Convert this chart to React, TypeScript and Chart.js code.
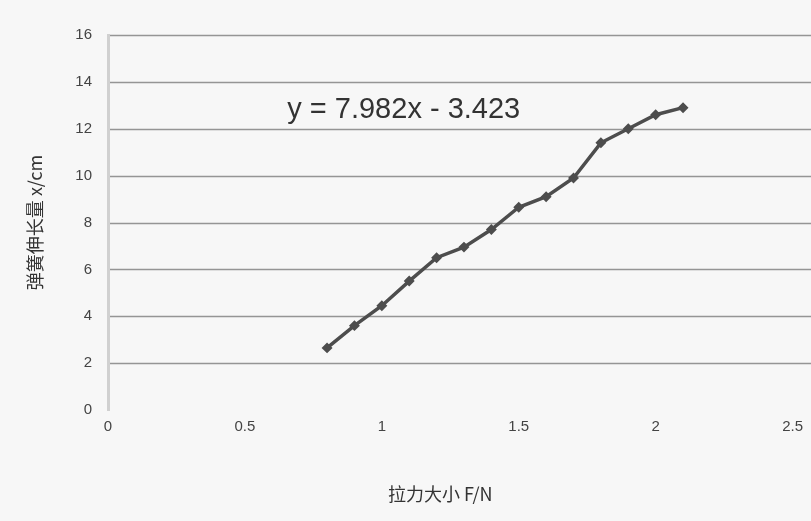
import React, { useEffect, useRef } from "react";
import { Chart, registerables } from "chart.js";

Chart.register(...registerables);

const xValues = [0.8, 0.9, 1.0, 1.1, 1.2, 1.3, 1.4, 1.5, 1.6, 1.7, 1.8, 1.9, 2.0, 2.1];
const yValues = [2.65, 3.6, 4.45, 5.5, 6.5, 6.95, 7.7, 8.65, 9.1, 9.9, 11.4, 12.0, 12.6, 12.9];
const xTitle = "拉力大小 F/N     ";
const yTitle = "弹簧伸长量 x/cm";
const trendLabel = "y = 7.982x - 3.423";
const trendLabelPos = { x: 1.08, y: 12.8 };

const bgPlugin = {
  id: "bgAndGrid",
  beforeDraw(chart: any) {
    const { ctx, width, height } = chart;
    ctx.save();
    ctx.fillStyle = "#f7f7f7";
    ctx.fillRect(0, 0, width, height);
    ctx.restore();
  },
  beforeDatasetsDraw(chart: any) {
    const { ctx, chartArea, width } = chart;
    const ys = chart.scales.y;
    ctx.save();
    ctx.strokeStyle = "#959595";
    ctx.lineWidth = 1.5;
    ys.ticks.forEach((t: any, i: number) => {
      if (t.value === 0) return;
      const py = Math.round(ys.getPixelForTick(i)) + 0.5;
      ctx.beginPath();
      ctx.moveTo(chartArea.left + 2, py);
      ctx.lineTo(width, py);
      ctx.stroke();
    });
    ctx.restore();
  },
  afterDatasetsDraw(chart: any) {
    const { ctx } = chart;
    const px = chart.scales.x.getPixelForValue(trendLabelPos.x);
    const py = chart.scales.y.getPixelForValue(trendLabelPos.y);
    ctx.save();
    ctx.font = '29px "Liberation Sans", Arial, sans-serif';
    ctx.fillStyle = "#333";
    ctx.textAlign = "center";
    ctx.textBaseline = "middle";
    ctx.fillText(trendLabel, px, py);
    ctx.restore();
  },
};

export default function App() {
  const ref = useRef<HTMLCanvasElement>(null);
  useEffect(() => {
    document.body.style.margin = "0";
    const chart = new Chart(ref.current!, {
      type: "scatter",
      data: {
        datasets: [
          {
            data: xValues.map((x, i) => ({ x, y: yValues[i] })),
            showLine: true,
            borderColor: "#4d4d4d",
            backgroundColor: "#4d4d4d",
            borderWidth: 3.5,
            pointRadius: 3,
            pointStyle: "rectRot",
          },
        ],
      },
      options: {
        animation: false,
        responsive: false,
        layout: { padding: { top: 35, right: 18, bottom: 0, left: 0 } },
        plugins: { legend: { display: false }, tooltip: { enabled: false } },
        scales: {
          x: {
            type: "linear",
            min: 0,
            max: 2.5,
            ticks: {
              stepSize: 0.5,
              padding: 8,
              color: "#444",
              font: { family: '"Liberation Sans", Arial, sans-serif', size: 15 },
              callback: (v: any) => String(v),
            },
            grid: { display: false, drawTicks: false },
            border: { display: false },
            title: {
              display: true,
              text: xTitle,
              color: "#333",
              padding: { top: 0, bottom: 16 },
              font: { family: '"Noto Sans CJK SC", sans-serif', size: 18 },
            },
            afterFit(s: any) {
              s.height = 111;
            },
          },
          y: {
            min: 0,
            max: 16,
            ticks: {
              stepSize: 2,
              padding: 16,
              color: "#444",
              font: { family: '"Liberation Sans", Arial, sans-serif', size: 15 },
            },
            grid: { display: false, drawTicks: false },
            border: { display: true, color: "#d0d0d0", width: 3 },
            title: {
              display: true,
              text: yTitle,
              color: "#333",
              padding: { top: 24, bottom: 0 },
              font: { family: '"Noto Sans CJK SC", sans-serif', size: 18 },
            },
            afterFit(s: any) {
              s.width = 108;
            },
          },
        },
      },
      plugins: [bgPlugin],
    });
    return () => chart.destroy();
  }, []);
  return (
    <div style={{ position: "absolute", left: 0, top: 0, width: 811, height: 521 }}>
      <canvas ref={ref} width={811} height={521} style={{ display: "block" }} />
    </div>
  );
}
